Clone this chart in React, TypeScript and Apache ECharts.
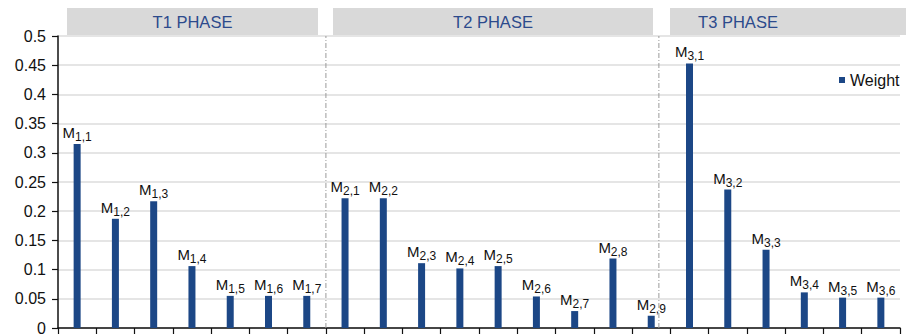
import React, { useEffect, useRef } from "react";
import * as echarts from "echarts";

// Subscript index of each M criterion, in plotting order
const subscripts = [
  "1,1", "1,2", "1,3", "1,4", "1,5", "1,6", "1,7",
  "2,1", "2,2", "2,3", "2,4", "2,5", "2,6", "2,7", "2,8", "2,9",
  "3,1", "3,2", "3,3", "3,4", "3,5", "3,6",
];

// Weight of each criterion
const weights = [
  0.315, 0.187, 0.217, 0.106, 0.055, 0.055, 0.055,
  0.222, 0.222, 0.111, 0.102, 0.106, 0.054, 0.029, 0.119, 0.021,
  0.453, 0.237, 0.134, 0.061, 0.052, 0.052,
];

// Phase banners above the plot
const phases = ["T1 PHASE", "T2 PHASE", "T3 PHASE"];

// Separator positions, in category units along the x axis
const separators = [7, 15.7];

const BAR = "#1c4786";

export default function App() {
  const ref = useRef<HTMLDivElement>(null);

  useEffect(() => {
    if (!ref.current) return;
    const chart = echarts.init(ref.current, undefined, { renderer: "svg" });

    const bannerBoxes = [
      { x: 67, w: 251 },
      { x: 333, w: 320 },
      { x: 670, w: 240 },
    ];

    const graphic: any[] = [];
    phases.forEach((p, i) => {
      const b = bannerBoxes[i];
      graphic.push({
        type: "rect",
        shape: { x: b.x, y: 8, width: b.w, height: 27 },
        style: { fill: "#d9d9d9" },
        silent: true,
        z: 1,
      });
      graphic.push({
        type: "text",
        x: i === 2 ? 738 : b.x + b.w / 2,
        y: 21.5,
        style: {
          text: p,
          fill: "#2c4a8c",
          font: "16.5px 'Liberation Sans', Arial, sans-serif",
          textAlign: "center",
          textVerticalAlign: "middle",
        },
        silent: true,
        z: 2,
      });
    });

    const separatorSeries = separators.map((s) => ({
      type: "line",
      xAxisIndex: 1,
      data: [
        [s, 0],
        [s, 0.5],
      ],
      symbol: "none",
      silent: true,
      lineStyle: { color: "#9a9a9a", width: 1, type: [5, 2, 1, 2] },
      z: 1,
    }));

    chart.setOption({
      animation: false,
      textStyle: { fontFamily: "'Liberation Sans', Arial, sans-serif" },
      grid: { left: 58, right: 6, top: 36, bottom: 8, containLabel: false },
      legend: {
        data: [{ name: "Weight", icon: "rect" }],
        left: 834,
        top: 67,
        itemWidth: 6,
        itemHeight: 6,
        itemGap: 0,
        textStyle: { fontSize: 16, color: "#111" },
        selectedMode: false,
      },
      graphic,
      xAxis: [
        {
          type: "category",
          data: subscripts,
          axisLine: { lineStyle: { color: "#111", width: 1.5 } },
          axisTick: { show: true, length: 6, interval: 0, lineStyle: { color: "#111", width: 1.2 } },
          axisLabel: { show: false },
          splitLine: { show: false },
        },
        {
          type: "value",
          min: 0,
          max: 22,
          show: false,
        },
      ],
      yAxis: {
        type: "value",
        min: 0,
        max: 0.5,
        interval: 0.05,
        axisLine: { show: true, lineStyle: { color: "#111", width: 1.5 } },
        axisTick: { show: true, length: 6, lineStyle: { color: "#111", width: 1.2 } },
        axisLabel: { fontSize: 16, color: "#111", margin: 12 },
        splitLine: { show: true, lineStyle: { color: "#dcdcdc", width: 1.5 } },
      },
      series: [
        {
          name: "Weight",
          type: "bar",
          data: weights,
          barWidth: 7,
          itemStyle: { color: BAR },
          z: 3,
          label: {
            show: true,
            position: "top",
            distance: 1,
            color: "#111",
            formatter: (p: any) => `{a|M}{b|${p.name}}`,
            rich: {
              a: { fontSize: 15, lineHeight: 15, color: "#111", verticalAlign: "top" },
              b: { fontSize: 12, lineHeight: 18, color: "#111", verticalAlign: "bottom" },
            },
          },
        },
        ...separatorSeries,
      ],
    });

    return () => chart.dispose();
  }, []);

  return (
    <div
      ref={ref}
      style={{ position: "fixed", left: 0, top: 0, width: 906, height: 336, background: "#fff" }}
    />
  );
}
